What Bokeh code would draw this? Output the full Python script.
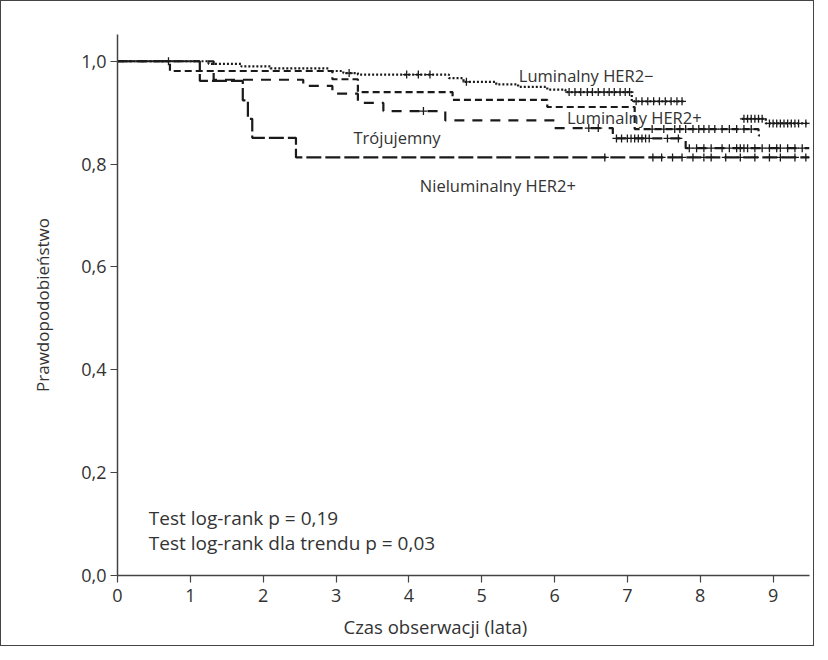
from bokeh.plotting import figure
from bokeh.models import Range1d, Label, FixedTicker, Title
from bokeh.embed import file_html
from bokeh.resources import INLINE

# ---- data ----
x_ticks = [0, 1, 2, 3, 4, 5, 6, 7, 8, 9]
y_ticks = [0.0, 0.2, 0.4, 0.6, 0.8, 1.0]
y_tick_labels = ["0,0", "0,2", "0,4", "0,6", "0,8", "1,0"]

# Luminalny HER2- (dotted)
lum_neg_t = [1.25, 1.7, 2.1, 2.9, 3.1, 3.3, 4.55, 4.75, 5.2, 5.5, 5.9, 6.15, 7.06]
lum_neg_s = [0.995, 0.990, 0.986, 0.981, 0.977, 0.974, 0.967, 0.960, 0.955, 0.950, 0.945, 0.940, 0.922]
lum_neg_end = 7.78
lum_neg_cens = [0.7, 3.18, 3.97, 4.13, 4.29, 4.79, 6.2, 6.28, 6.36, 6.45, 6.52, 6.6, 6.68, 6.75,
                6.82, 6.9, 6.97, 7.03, 7.12, 7.2, 7.28, 7.36, 7.44, 7.52, 7.6, 7.68, 7.75]
lum_neg_tail_t = [8.57, 8.9]
lum_neg_tail_s = [0.888, 0.879]
lum_neg_tail_end = 9.5
lum_neg_tail_cens = [8.6, 8.65, 8.7, 8.75, 8.8, 8.85, 8.95, 9.0, 9.05, 9.1, 9.15, 9.2, 9.25, 9.3, 9.35, 9.45]

# Luminalny HER2+
lum_pos_t = [0.72, 2.95, 3.3, 4.6, 5.9, 7.1, 8.8]
lum_pos_s = [0.981, 0.965, 0.940, 0.925, 0.911, 0.868, 0.856]
lum_pos_end = 8.82
lum_pos_cens = [7.34, 7.5, 7.65, 7.72, 7.8, 7.9, 7.98, 8.05, 8.12, 8.2, 8.3, 8.4, 8.5, 8.6, 8.7]

# Trójujemny
tn_t = [1.32, 2.55, 2.95, 3.3, 3.65, 4.5, 6.0, 6.8, 7.8]
tn_s = [0.964, 0.952, 0.937, 0.919, 0.903, 0.885, 0.870, 0.850, 0.831]
tn_end = 9.5
tn_cens = [4.2, 6.47, 6.6, 6.85, 6.92, 7.0, 7.05, 7.1, 7.15, 7.2, 7.25, 7.3, 7.55, 7.7,
           7.85, 7.95, 8.05, 8.15, 8.3, 8.4, 8.5, 8.55, 8.6, 8.65, 8.75, 8.85, 8.95,
           9.05, 9.1, 9.2, 9.3, 9.4]

# Nieluminalny HER2+
nl_t = [1.13, 1.72, 1.79, 1.85, 2.45]
nl_s = [0.962, 0.924, 0.888, 0.851, 0.813]
nl_end = 9.5
nl_cens = [6.69, 7.35, 7.47, 7.62, 7.75, 7.9, 8.05, 8.15, 8.35, 8.55, 8.75, 8.95, 9.1, 9.3, 9.45]

FONT = "Open Sans"
TXT = "#333333"
LINE = "#1a1a1a"

p = figure(frame_width=692, frame_height=541, output_backend="svg", toolbar_location=None,
           x_range=Range1d(0, 9.5), y_range=Range1d(0, 1.052),
           min_border_left=116, min_border_right=4, min_border_top=33, min_border_bottom=40)
p.styles = {"border": "1.5px solid #444444"}
p.outline_line_color = None
p.grid.visible = False
p.background_fill_color = "white"

for ax in (p.xaxis[0], p.yaxis[0]):
    ax.axis_line_color = "#444444"
    ax.axis_line_width = 1.5
    ax.major_tick_line_color = "#444444"
    ax.major_tick_line_width = 1.2
    ax.major_tick_in = 0
    ax.major_tick_out = 7
    ax.minor_tick_line_color = None
    ax.major_label_text_font = FONT
    ax.major_label_text_font_size = "18px"
    ax.major_label_text_color = TXT

p.xaxis.ticker = FixedTicker(ticks=x_ticks)
p.yaxis.ticker = FixedTicker(ticks=y_ticks)
p.yaxis.major_label_overrides = {t: l for t, l in zip(y_ticks, y_tick_labels)}
p.xaxis.major_label_standoff = 6
p.yaxis.major_label_standoff = 4

p.yaxis.axis_label = "Prawdopodobieństwo"
p.yaxis.axis_label_text_font = FONT
p.yaxis.axis_label_text_font_size = "17px"
p.yaxis.axis_label_text_font_style = "normal"
p.yaxis.axis_label_text_color = TXT
p.yaxis.axis_label_standoff = 24

p.add_layout(Title(text="Czas obserwacji (lata)", align="left", offset=226,
                   text_font=FONT, text_font_size="18.5px", text_font_style="normal",
                   text_color=TXT, standoff=14), "below")


def km(t, s, end):
    return [0.0] + list(t) + [end], [1.0] + list(s) + [s[-1]]


def surv_at(t, s, x, start=1.0):
    v = start
    for ti, si in zip(t, s):
        if x >= ti:
            v = si
    return v


curves = [
    (lum_neg_t, lum_neg_s, lum_neg_end, lum_neg_cens, "2 2"),
    (lum_pos_t, lum_pos_s, lum_pos_end, lum_pos_cens, "7 4"),
    (tn_t, tn_s, tn_end, tn_cens, "10 8"),
    (nl_t, nl_s, nl_end, nl_cens, "15 4"),
]
for t, s, end, cens, dash in curves:
    xs, ys = km(t, s, end)
    p.step(xs, ys, mode="after", line_color=LINE, line_width=2.2, line_dash=dash)
    cy = [surv_at(t, s, c) for c in cens]
    p.scatter(cens, cy, marker="cross", size=8, line_color=LINE, line_width=1.3)

# tail of Luminalny HER2- after the gap in follow-up
tx = list(lum_neg_tail_t) + [lum_neg_tail_end]
ty = list(lum_neg_tail_s) + [lum_neg_tail_s[-1]]
p.step(tx, ty, mode="after", line_color=LINE, line_width=2.2, line_dash="2 2")
p.scatter(lum_neg_tail_cens,
          [surv_at(lum_neg_tail_t, lum_neg_tail_s, c, lum_neg_tail_s[0]) for c in lum_neg_tail_cens],
          marker="cross", size=8, line_color=LINE, line_width=1.3)

labels = [
    ("Luminalny HER2\u2212", 5.51, 0.973, "16.5px"),
    ("Luminalny HER2+", 6.17, 0.891, "16.5px"),
    ("Trójujemny", 3.24, 0.852, "16.5px"),
    ("Nieluminalny HER2+", 4.15, 0.759, "16.5px"),
    ("Test log-rank p = 0,19", 0.43, 0.111, "19px"),
    ("Test log-rank dla trendu p = 0,03", 0.43, 0.064, "19px"),
]
for txt, x, y, fs in labels:
    p.add_layout(Label(x=x, y=y, text=txt, text_font=FONT, text_font_size=fs,
                       text_color=TXT, text_baseline="middle", text_align="left"))

open("out.html", "w").write(file_html(p, INLINE))
